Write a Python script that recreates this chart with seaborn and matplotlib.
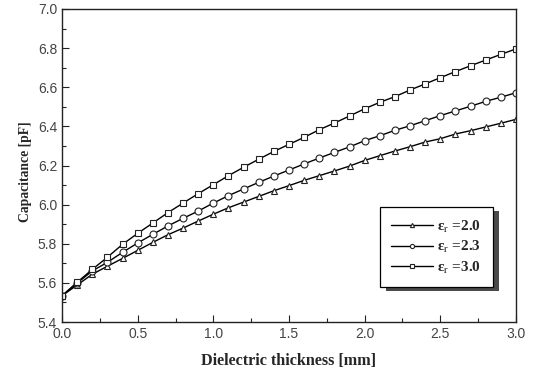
import matplotlib
matplotlib.use("Agg")
import matplotlib.pyplot as plt
import seaborn as sns
import pandas as pd
from matplotlib.patches import Rectangle
from matplotlib.ticker import MultipleLocator, FormatStrFormatter

thickness = [0.0, 0.1, 0.2, 0.3, 0.4, 0.5, 0.6, 0.7, 0.8, 0.9, 1.0,
             1.1, 1.2, 1.3, 1.4, 1.5, 1.6, 1.7, 1.8, 1.9, 2.0,
             2.1, 2.2, 2.3, 2.4, 2.5, 2.6, 2.7, 2.8, 2.9, 3.0]
cap_er20 = [5.534, 5.589, 5.644, 5.685, 5.725, 5.766, 5.807, 5.846, 5.880, 5.916, 5.951,
            5.984, 6.013, 6.042, 6.071, 6.097, 6.124, 6.148, 6.172, 6.197, 6.226,
            6.250, 6.274, 6.296, 6.320, 6.337, 6.361, 6.378, 6.397, 6.416, 6.436]
cap_er23 = [5.534, 5.599, 5.661, 5.705, 5.756, 5.804, 5.848, 5.891, 5.930, 5.967, 6.008,
            6.046, 6.080, 6.114, 6.146, 6.177, 6.208, 6.238, 6.267, 6.295, 6.327,
            6.352, 6.380, 6.403, 6.429, 6.455, 6.479, 6.503, 6.528, 6.549, 6.572]
cap_er30 = [5.534, 5.603, 5.669, 5.731, 5.797, 5.853, 5.906, 5.959, 6.008, 6.056, 6.102,
            6.148, 6.191, 6.232, 6.272, 6.308, 6.344, 6.383, 6.417, 6.453, 6.490,
            6.523, 6.552, 6.586, 6.617, 6.649, 6.680, 6.710, 6.739, 6.768, 6.796]
labels = ["ε$_\\mathrm{r}$ =2.0", "ε$_\\mathrm{r}$ =2.3", "ε$_\\mathrm{r}$ =3.0"]
markers = ["^", "o", "s"]

sns.set_style("ticks")
plt.rcParams["mathtext.fontset"] = "stix"
plt.rcParams["font.family"] = ["Liberation Sans", "DejaVu Sans"]

fig = plt.figure(figsize=(5.33, 3.72), dpi=100)
ax = fig.add_axes([62/533, 1-322/372, (516-62)/533, (322-9)/372])

for ys, lab, mk in zip([cap_er20, cap_er23, cap_er30], labels, markers):
    df = pd.DataFrame({"x": thickness, "y": ys})
    sns.lineplot(data=df, x="x", y="y", ax=ax, color="black", lw=1.0,
                 marker=mk, markersize=5, markerfacecolor="white",
                 markeredgecolor="#222222", markeredgewidth=0.8, label=lab)

ax.set_xlim(0, 3.0)
ax.set_ylim(5.4, 7.0)
ax.xaxis.set_major_locator(MultipleLocator(0.5))
ax.xaxis.set_minor_locator(MultipleLocator(0.25))
ax.yaxis.set_major_locator(MultipleLocator(0.2))
ax.yaxis.set_minor_locator(MultipleLocator(0.1))
ax.tick_params(which="both", direction="in", top=False, right=False,
               colors="#222222", labelcolor="#444444", labelsize=10, width=0.8)
ax.tick_params(which="major", length=5)
ax.tick_params(which="minor", length=3)
ax.xaxis.set_major_formatter(FormatStrFormatter("%.1f"))
ax.yaxis.set_major_formatter(FormatStrFormatter("%.1f"))
for s in ax.spines.values():
    s.set_visible(True)
    s.set_linewidth(1.0)
    s.set_color("#222222")

ax.set_xlabel("Dielectric thickness [mm]", family="Liberation Serif",
              fontweight="bold", fontsize=11.6, labelpad=9)
ax.set_ylabel("Capacitance [pF]", family="Liberation Serif",
              fontweight="bold", fontsize=9.8)
ax.yaxis.set_label_coords(-0.066, 0.479)

leg = ax.legend(loc="upper left", bbox_to_anchor=((380-62)/454, (322-207)/313),
                borderaxespad=0, frameon=True, fancybox=False,
                handlelength=2.75, markerscale=0.6,
                prop={"family": "Liberation Serif", "weight": "bold", "size": 11},
                labelspacing=0.3, borderpad=0.75, handletextpad=0.25)
leg.get_frame().set_edgecolor("black")
leg.get_frame().set_linewidth(0.9)
leg.get_frame().set_facecolor("white")
leg.get_frame().set_alpha(1)
leg.set_zorder(6)

fig.canvas.draw()
bb = leg.get_window_extent()
shadow = Rectangle((bb.x0 + 6, bb.y0 - 4), bb.width, bb.height, transform=None,
                   facecolor="#4a4a4a", edgecolor="none", zorder=5, clip_on=False)
ax.add_artist(shadow)

fig.savefig("out.png", dpi=100)
